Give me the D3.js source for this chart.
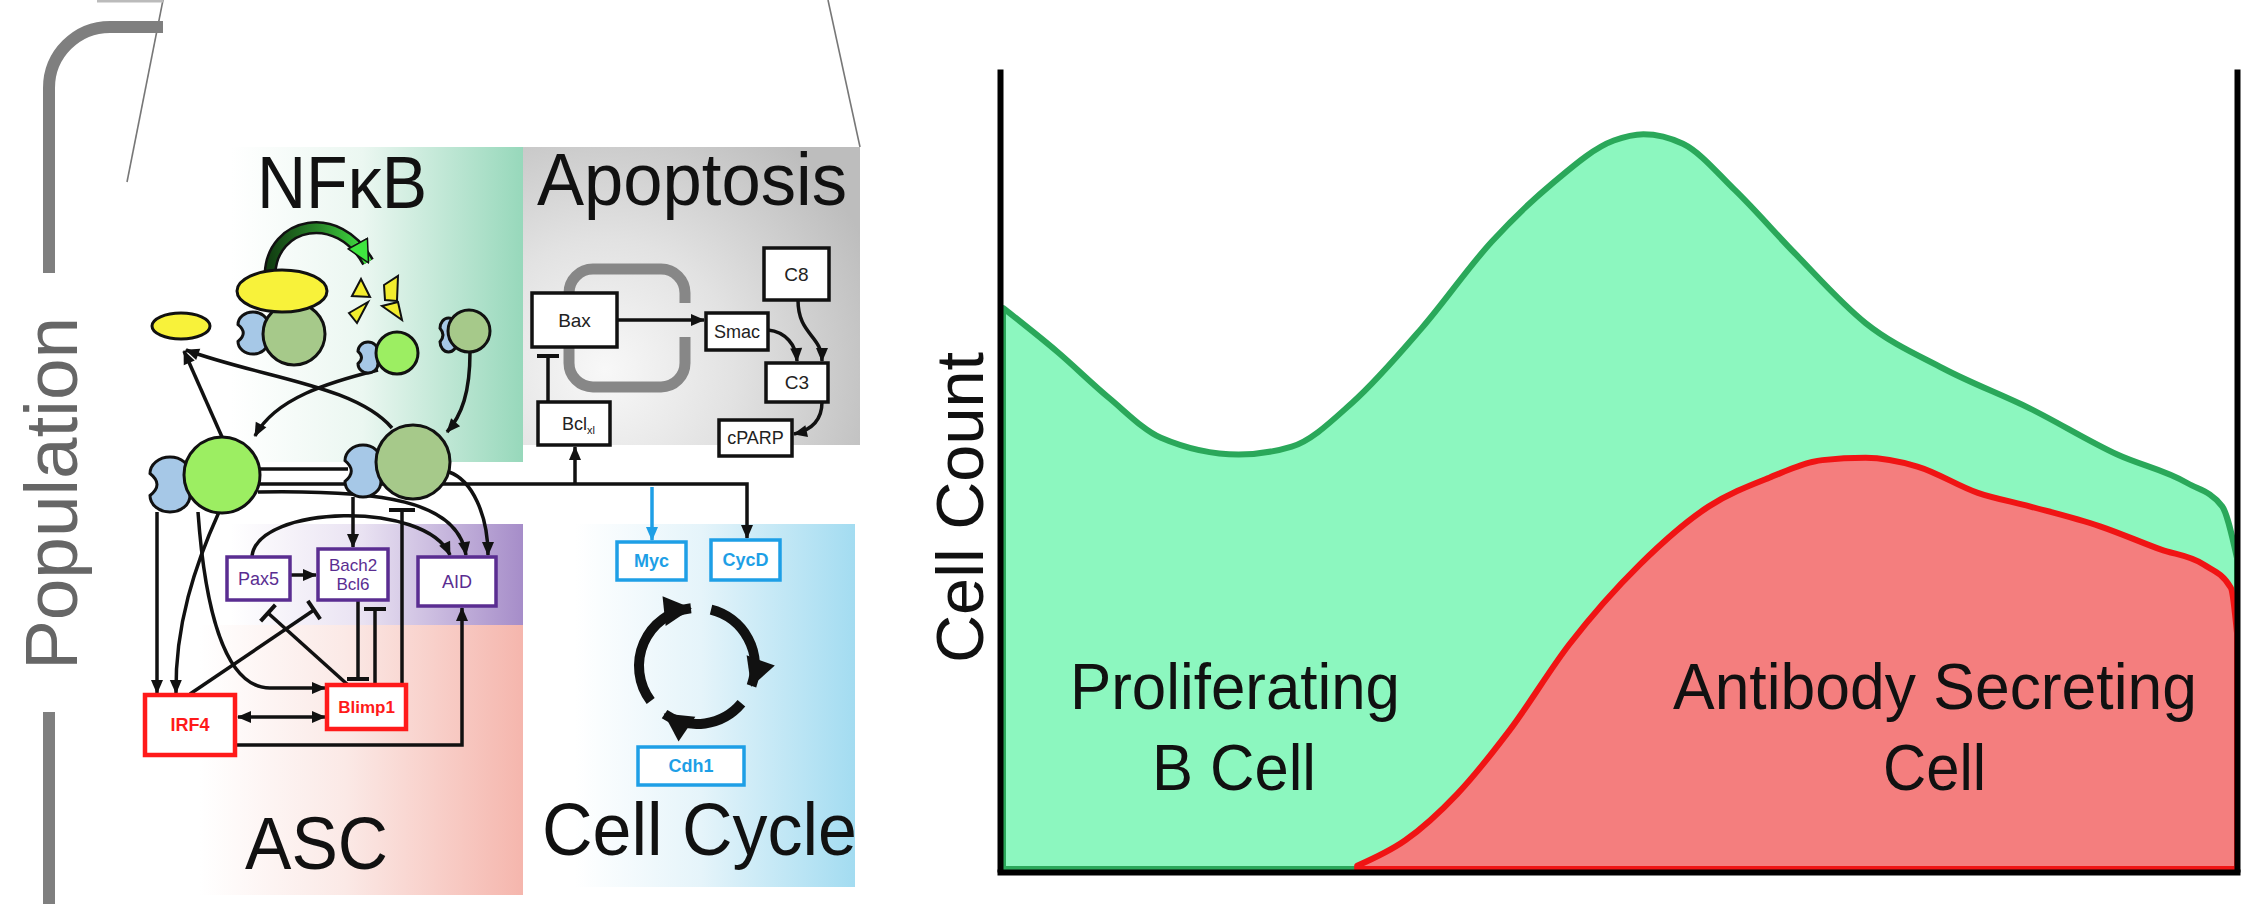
<!DOCTYPE html>
<html><head><meta charset="utf-8">
<script src="https://cdn.jsdelivr.net/npm/d3@7"></script>
<style>html,body{margin:0;padding:0;background:#fff;overflow:hidden}svg{display:block}</style>
</head><body><svg id="c" width="2258" height="904"></svg>
<script>
// ---------------- data ----------------
const greenX = [0,4.4,8.6,12.8,19.1,23.4,28.3,33.9,39.6,44.5,49.5,51.9,55.1,59.3,64.2,69.9,76.2,83.2,90.3,96.0,98.8,100];
const greenY = [70.4,64.9,59.1,54.1,52.0,53.0,58.5,67.8,78.7,86.0,91.4,92.2,91.0,85.2,77.2,68.5,62.8,57.8,52.0,48.4,45.5,39.0];
const redX = [28.7,32.6,36.8,41.0,45.9,51.6,57.2,62.1,66.4,69.9,74.1,79.0,83.2,88.9,93.8,97.3,99.5,100];
const redY = [0.4,3.6,9.4,17.3,28.2,38.2,45.5,49.1,51.3,51.6,50.5,47.2,45.5,43.0,40.1,38.2,35.3,29.6];
const greenLabel = ["Proliferating","B Cell"];
const redLabel = ["Antibody Secreting","Cell"];
const yAxisTitle = "Cell Count";
const xTickValues = [];
const yTickValues = [];
const sideTitle = "Population";
const moduleTitles = ["NFκB","Apoptosis","ASC","Cell Cycle"];
const apoptosisNames = ["Bax","Smac","C8","C3","cPARP"];
const cycleNames = ["Myc","CycD","Cdh1"];
const ascPurpleNames = ["Pax5","AID"];
const ascRedNames = ["IRF4","Blimp1"];

// ---------------- setup ----------------
const svg = d3.select('#c');
const FONT = "'Liberation Sans', Arial, Helvetica, sans-serif";
svg.append('rect').attr('width',2258).attr('height',904).attr('fill','#fff');
const defs = svg.append('defs');
function lin(id, stops, x1,y1,x2,y2){
  const g = defs.append('linearGradient').attr('id',id).attr('gradientUnits','userSpaceOnUse')
    .attr('x1',x1).attr('y1',y1).attr('x2',x2).attr('y2',y2);
  stops.forEach(([o,c])=>g.append('stop').attr('offset',o).attr('stop-color',c));
}
lin('gNF', [[0,'#ffffff'],[0.45,'#ebf7f1'],[1,'#97d8bb']], 231,0,523,0);
lin('gPur', [[0,'#ffffff'],[0.45,'#e9e2f2'],[1,'#a68dc9']], 231,0,523,0);
lin('gPink', [[0,'#ffffff'],[0.45,'#fbe9e6'],[1,'#f5b6ad']], 200,0,523,0);
lin('gBlue', [[0,'#ffffff'],[0.45,'#e5f4fa'],[1,'#a3dcf1']], 575,0,855,0);
lin('gArrow', [[0,'#123f12'],[0.5,'#2a8a2a'],[1,'#44ee44']], 270,0,372,0);
const rg = defs.append('radialGradient').attr('id','gAp').attr('gradientUnits','userSpaceOnUse')
  .attr('cx',605).attr('cy',370).attr('r',290);
[[0,'#f8f8f8'],[0.45,'#e2e2e2'],[1,'#bdbdbd']].forEach(([o,c])=>rg.append('stop').attr('offset',o).attr('stop-color',c));

function marker(id, color, w, h, stroke){
  const m = defs.append('marker').attr('id',id).attr('viewBox',`-1 -1 ${w+2} ${h+2}`)
    .attr('refX',w-1).attr('refY',h/2).attr('markerWidth',w+2).attr('markerHeight',h+2)
    .attr('markerUnits','userSpaceOnUse').attr('orient','auto-start-reverse');
  m.append('path').attr('d',`M0,0L${w},${h/2}L0,${h}Z`).attr('fill',color)
    .attr('stroke',stroke||'none').attr('stroke-width',stroke?1.5:0);
}
marker('ah','#111',14,12);
marker('ahB','#1e9fe6',14,12);
marker('ahBig','#111',28,30);
marker('ahG','#3fe63f',22,22,'#111');

// ---------------- left diagram ----------------
const L = svg.append('g');
L.append('path').attr('d','M163,0 L127,182').attr('stroke','#777').attr('stroke-width',1.6).attr('fill','none');
L.append('path').attr('d','M828,0 L860,147').attr('stroke','#777').attr('stroke-width',1.6).attr('fill','none');
L.append('path').attr('d','M97,1 H163').attr('stroke','#bbb').attr('stroke-width',3);
L.append('path').attr('d','M163,27 H110 A61,61 0 0 0 49,88 V273').attr('stroke','#7f7f7f').attr('stroke-width',12).attr('fill','none');
L.append('path').attr('d','M49,712 V904').attr('stroke','#7f7f7f').attr('stroke-width',12).attr('fill','none');
L.append('text').text(sideTitle).attr('transform','translate(77,670) rotate(-90)')
  .attr('font-family',FONT).attr('font-size',74).attr('fill','#666')
  .attr('textLength',353).attr('lengthAdjust','spacingAndGlyphs');

// panels
L.append('rect').attr('x',231).attr('y',147).attr('width',292).attr('height',315).attr('fill','url(#gNF)');
L.append('rect').attr('x',523).attr('y',147).attr('width',337).attr('height',298).attr('fill','url(#gAp)');
L.append('rect').attr('x',200).attr('y',625).attr('width',323).attr('height',270).attr('fill','url(#gPink)');
L.append('rect').attr('x',231).attr('y',524).attr('width',292).attr('height',101).attr('fill','url(#gPur)');
L.append('rect').attr('x',575).attr('y',524).attr('width',280).attr('height',363).attr('fill','url(#gBlue)');

// titles
const titlePos = [[257,208,170],[537,205,310],[245,869,143],[542,855,315]];
moduleTitles.forEach((t,i)=>{
  L.append('text').text(t).attr('x',titlePos[i][0]).attr('y',titlePos[i][1])
    .attr('font-family',FONT).attr('font-size',74).attr('fill','#111')
    .attr('textLength',titlePos[i][2]).attr('lengthAdjust','spacingAndGlyphs');
});

// apoptosis gray loop
L.append('rect').attr('x',569).attr('y',269).attr('width',116).attr('height',118).attr('rx',24)
  .attr('fill','none').attr('stroke','#878787').attr('stroke-width',11);
L.append('rect').attr('x',678).attr('y',303).attr('width',14).attr('height',34).attr('fill','url(#gAp)');

// network lines
function path(d, opts={}){
  const p = L.append('path').attr('d',d).attr('fill','none')
    .attr('stroke',opts.color||'#111').attr('stroke-width',opts.w||3.5);
  if(opts.end!==false) p.attr('marker-end',`url(#${opts.m||'ah'})`);
  if(opts.start) p.attr('marker-start',`url(#${opts.m||'ah'})`);
  return p;
}
function tbar(x0,y0,x1,y1,len=22){
  L.append('path').attr('d',`M${x0},${y0}L${x1},${y1}`).attr('stroke','#111').attr('stroke-width',3.5).attr('fill','none');
  const dx=x1-x0, dy=y1-y0, n=Math.hypot(dx,dy), px=-dy/n*len/2, py=dx/n*len/2;
  L.append('path').attr('d',`M${x1-px},${y1-py}L${x1+px},${y1+py}`).attr('stroke','#111').attr('stroke-width',4);
}
path('M258,469 H348',{end:false});
path('M258,484 H747 V538');
path('M575,484 V447');
path('M652,487 V540',{color:'#1e9fe6',m:'ahB'});
path('M222,437 L184,351');
path('M392,428 C355,385 262,378 186,350');
path('M378,370 C330,382 275,398 255,436');
path('M470,352 C470,392 462,415 447,432');
path('M157,512 V693');
path('M219,512 C195,565 175,625 176,693');
path('M198,512 C205,610 225,688 270,688 L325,688');
path('M290,575 H316');
path('M353,497 V547');
path('M252,556 C258,505 425,500 450,555');
path('M258,492 C380,490 458,500 466,555');
path('M449,472 C472,480 488,515 488,555');
path('M235,745 H462 V608');
path('M238,717 H325',{start:true});
path('M617,320 H704');
path('M768,330 C786,332 796,345 797,361');
path('M798,300 C798,335 822,335 822,361');
path('M822,402 C822,420 812,430 794,434');
tbar(190,694,314,610);
tbar(348,685,268,613);
tbar(358,600,358,679);
tbar(375,685,375,609);
tbar(402,685,402,510,26);
tbar(548,402,548,356);

// green degradation arrow
L.append('path').attr('d','M270,274 C272,222 338,208 368,262').attr('fill','none').attr('stroke','#111').attr('stroke-width',13);
L.append('path').attr('d','M270,274 C272,222 338,208 368,262').attr('fill','none').attr('stroke','url(#gArrow)').attr('stroke-width',8).attr('marker-end','url(#ahG)');
['M352,296 L361,279 L370,297 Z','M384,285 L398,276 L397,301 L385,300 Z','M349,313 L368,302 L357,323 Z','M382,306 L398,302 L402,320 Z']
  .forEach(d=>L.append('path').attr('d',d).attr('fill','#f2ec2e').attr('stroke','#111').attr('stroke-width',2));

// nodes
function blueShape(x0,y0,x1,y1){
  const cx=(x0+x1)/2, w=x1-x0, h=y1-y0, ry=h*0.3, my=(y0+y1)/2;
  L.append('path').attr('d',
    `M${cx},${y0} A${w/2},${ry} 0 0 1 ${x1},${y0+ry} L${x1},${y1-ry} A${w/2},${ry} 0 0 1 ${cx},${y1} A${w/2},${ry} 0 0 1 ${x0},${y1-ry} Q${x0+w*0.35},${my} ${x0},${y0+ry} A${w/2},${ry} 0 0 1 ${cx},${y0} Z`)
    .attr('fill','#a6c8e7').attr('stroke','#111').attr('stroke-width',3);
}
function circ(cx,cy,r,fill){ L.append('circle').attr('cx',cx).attr('cy',cy).attr('r',r).attr('fill',fill).attr('stroke','#111').attr('stroke-width',3); }
const LIME='#9cee62', SAGE='#a6c98a';
blueShape(150,457,190,512); circ(222,475,38,LIME);
blueShape(345,445,381,497); circ(413,462,37,SAGE);
blueShape(238,312,268,354); circ(294,334,31,SAGE);
L.append('ellipse').attr('cx',282).attr('cy',291).attr('rx',45).attr('ry',21).attr('fill','#f8f23a').attr('stroke','#111').attr('stroke-width',3);
L.append('ellipse').attr('cx',181).attr('cy',326).attr('rx',29).attr('ry',13).attr('fill','#f8f23a').attr('stroke','#111').attr('stroke-width',3);
blueShape(358,342,378,373); circ(397,353,21,LIME);
blueShape(440,318,457,352); circ(469,331,21,SAGE);

// boxes
function box(x0,y0,x1,y1,color,sw,lines,fs,weight){
  L.append('rect').attr('x',x0).attr('y',y0).attr('width',x1-x0).attr('height',y1-y0)
    .attr('fill','#fff').attr('stroke',color).attr('stroke-width',sw);
  const cx=(x0+x1)/2, cy=(y0+y1)/2, n=lines.length;
  lines.forEach((t,i)=>{
    L.append('text').text(t).attr('x',cx).attr('y',cy+(i-(n-1)/2)*fs*1.15).attr('dy','0.36em')
      .attr('text-anchor','middle').attr('font-family',FONT).attr('font-size',fs)
      .attr('font-weight',weight||'normal').attr('fill',color==='#111'?'#222':color);
  });
}
box(532,293,617,347,'#111',3.5,[apoptosisNames[0]],19);
box(706,313,768,350,'#111',3.5,[apoptosisNames[1]],18);
box(764,248,829,300,'#111',3.5,[apoptosisNames[2]],19);
box(766,363,828,402,'#111',3.5,[apoptosisNames[3]],19);
box(719,420,792,456,'#111',3.5,[apoptosisNames[4]],18);
box(538,402,610,445,'#111',3.5,[],18);
const bcl = L.append('text').attr('x',562).attr('y',430).attr('font-family',FONT).attr('font-size',18).attr('fill','#222');
bcl.append('tspan').text('Bcl');
bcl.append('tspan').text('xl').attr('font-size',11).attr('dy',4);

box(617,542,686,580,'#1e9fe6',3.5,[cycleNames[0]],18,'bold');
box(711,540,780,580,'#1e9fe6',3.5,[cycleNames[1]],18,'bold');
box(638,747,744,785,'#1e9fe6',3.5,[cycleNames[2]],18,'bold');

box(227,557,290,600,'#5a2d91',3.5,[ascPurpleNames[0]],18);
box(318,549,388,600,'#5a2d91',3.5,['Bach2','Bcl6'],17);
box(418,557,496,606,'#5a2d91',3.5,[ascPurpleNames[1]],18);
box(145,695,235,755,'#ff1a1a',4.5,[ascRedNames[0]],18,'bold');
box(327,685,406,729,'#ff1a1a',4.5,[ascRedNames[1]],17,'bold');

// cell cycle arrows
const cc=[697,666], cr=58;
function pt(a){ const r=a*Math.PI/180; return [cc[0]+cr*Math.sin(r), cc[1]-cr*Math.cos(r)]; }
[[233,354],[14,110],[130,214]].forEach(([a0,a1])=>{
  const p0=pt(a0), p1=pt(a1);
  L.append('path').attr('d',`M${p0[0]},${p0[1]} A${cr},${cr} 0 0 1 ${p1[0]},${p1[1]}`)
    .attr('fill','none').attr('stroke','#111').attr('stroke-width',10).attr('marker-end','url(#ahBig)');
});

// ---------------- right chart ----------------
const x = d3.scaleLinear().domain([0,100]).range([1003,2237]);
const y = d3.scaleLinear().domain([0,100]).range([869,72]);
const C = svg.append('g');
const greenData = greenX.map((v,i)=>({x:v,y:greenY[i]}));
const redData = redX.map((v,i)=>({x:v,y:redY[i]}));
const area = d3.area().x(d=>x(d.x)).y0(y(0)).y1(d=>y(d.y)).curve(d3.curveMonotoneX);
C.append('path').datum(greenData).attr('d',area).attr('fill','#8cf7bf').attr('stroke','#2aa85a').attr('stroke-width',6).attr('stroke-linejoin','round');
C.append('path').datum(redData).attr('d',area).attr('fill','#f47e7e').attr('stroke','#f01414').attr('stroke-width',6).attr('stroke-linejoin','round');

function styleAxis(g){ g.select('.domain').attr('stroke','#000').attr('stroke-width',6).attr('stroke-linecap','square'); g.selectAll('.tick').remove(); }
C.append('g').attr('transform',`translate(${x(0)-3},0)`).call(d3.axisLeft(y).tickValues(yTickValues).tickSizeOuter(0)).call(styleAxis);
C.append('g').attr('transform',`translate(${x(100)},0)`).call(d3.axisRight(y).tickValues(yTickValues).tickSizeOuter(0)).call(styleAxis);
C.append('g').attr('transform',`translate(0,${y(0)+3})`).call(d3.axisBottom(x.copy().range([1000,2237])).tickValues(xTickValues).tickSizeOuter(0)).call(styleAxis);

C.append('text').text(yAxisTitle).attr('transform','translate(983,663) rotate(-90)')
  .attr('font-family',FONT).attr('font-size',66).attr('fill','#111')
  .attr('textLength',311).attr('lengthAdjust','spacingAndGlyphs');
const lab = [[greenLabel[0],1070,709,330],[greenLabel[1],1152,790,164],[redLabel[0],1673,709,524],[redLabel[1],1883,790,103]];
lab.forEach(([t,lx,ly,len])=>{
  C.append('text').text(t).attr('x',lx).attr('y',ly).attr('font-family',FONT).attr('font-size',65)
    .attr('fill','#111').attr('textLength',len).attr('lengthAdjust','spacingAndGlyphs');
});
</script></body></html>
